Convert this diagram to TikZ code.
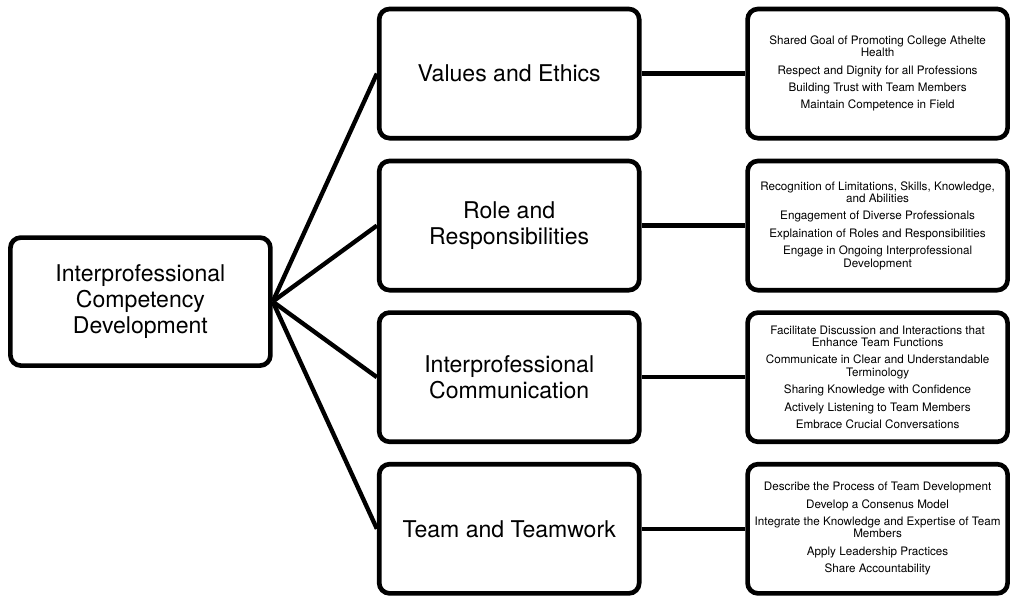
\documentclass[tikz,border=0pt]{standalone}
\usepackage{fontspec}
\setmainfont{TeX Gyre Heros}
\usepackage{tikz}
\usetikzlibrary{positioning}
\definecolor{FigureInk}{HTML}{000000}
\newcommand{\ItemBreak}{\\[3.7pt]}
\tikzset{
  figure/.style={text=FigureInk},
  rootbox/.style={draw=FigureInk,line width=3.3pt,rounded corners=2.6mm,fill=white,align=center,
    minimum width=6.5cm,minimum height=3.2cm,font=\fontsize{16.4}{18.6}\selectfont},
  topicbox/.style={rootbox,minimum width=6.5cm,minimum height=3.23cm},
  listbox/.style={rootbox,minimum width=6.5cm,minimum height=3.23cm,
    font=\fontsize{8.3}{8.7}\selectfont},
  branch/.style={line width=3.1pt,draw=FigureInk},
}
\begin{document}
\begin{tikzpicture}[figure]
  \useasboundingbox (0,0) rectangle (25.45,15.05);

  \node[rootbox] (root) at (3.51,7.51)
    {Interprofessional\\Competency\\Development};

  \node[topicbox] (values) at (12.73,13.21) {Values and Ethics};
  \node[topicbox] (roles)  at (12.73,9.41)  {Role and\\Responsibilities};
  \node[topicbox] (comm)   at (12.73,5.62)  {Interprofessional\\Communication};
  \node[topicbox] (team)   at (12.73,1.83)  {Team and Teamwork};

  \node[listbox] (valueslist) at (21.94,13.21)
    {Shared Goal of Promoting College Athelte\\Health\ItemBreak
     Respect and Dignity for all Professions\ItemBreak
     Building Trust with Team Members\ItemBreak
     Maintain Competence in Field};
  \node[listbox] (roleslist) at (21.94,9.41)
    {Recognition of Limitations, Skills, Knowledge,\\and Abilities\ItemBreak
     Engagement of Diverse Professionals\ItemBreak
     Explaination of Roles and Responsibilities\ItemBreak
     Engage in Ongoing Interprofessional\\Development};
  \node[listbox] (commlist) at (21.94,5.62)
    {Facilitate Discussion and Interactions that\\Enhance Team Functions\ItemBreak
     Communicate in Clear and Understandable\\Terminology\ItemBreak
     Sharing Knowledge with Confidence\ItemBreak
     Actively Listening to Team Members\ItemBreak
     Embrace Crucial Conversations};
  \node[listbox] (teamlist) at (21.94,1.83)
    {Describe the Process of Team Development\ItemBreak
     Develop a Consenus Model\ItemBreak
     Integrate the Knowledge and Expertise of Team\\Members\ItemBreak
     Apply Leadership Practices\ItemBreak
     Share Accountability};

  % fan out from the root
  \draw[branch] (root.east) -- (values.west);
  \draw[branch] (root.east) -- (roles.west);
  \draw[branch] (root.east) -- (comm.west);
  \draw[branch] (root.east) -- (team.west);

  \draw[branch] (values.east) -- (valueslist.west);
  \draw[branch] (roles.east) -- (roleslist.west);
  \draw[branch] (comm.east) -- (commlist.west);
  \draw[branch] (team.east) -- (teamlist.west);
\end{tikzpicture}
\end{document}
